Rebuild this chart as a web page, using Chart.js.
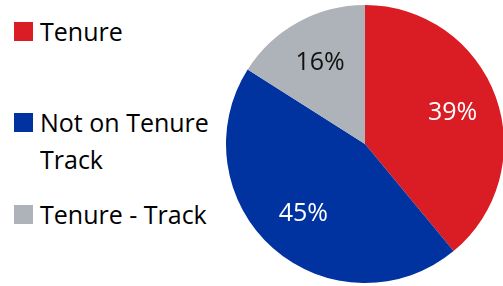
<!DOCTYPE html>
<html>
<head>
<meta charset="utf-8">
<script src="https://cdn.jsdelivr.net/npm/chart.js@4"></script>
<style>
  body { margin: 0; background: #fff; font-family: "Open Sans", sans-serif; }
  #wrap { position: relative; width: 503px; height: 286px; }
  #legend { position: absolute; left: 14px; top: 0; }
  .item { position: absolute; left: 0; white-space: nowrap; font-size: 25px; line-height: 37px; color: #000; }
  .box { position: absolute; left: 0; width: 19px; height: 19px; }
  .txt { position: absolute; left: 26px; }
  #pie { position: absolute; left: 226px; top: 5px; width: 278px; height: 278px; }
</style>
</head>
<body>
<div id="wrap">
  <div id="legend"></div>
  <div id="pie"><canvas id="pieChart"></canvas></div>
</div>
<script>
const labels = ['Tenure', 'Not on Tenure\nTrack', 'Tenure - Track'];
const values = [39, 45, 16];
const colors = ['#DA1C24', '#0033A0', '#ADB3B8'];
const textColors = ['#fff', '#fff', '#111'];

// legend rows (top of first line)
const legendTops = [13, 104, 196];
const legend = document.getElementById('legend');
labels.forEach((l, i) => {
    const item = document.createElement('div');
    item.className = 'item';
    item.style.top = legendTops[i] + 'px';
    item.innerHTML = '<div class="box" style="top:9px;background:' + colors[i] + '"></div>' +
        '<div class="txt">' + l.split('\n').join('<br>') + '</div>';
    legend.appendChild(item);
});

const pctLabels = {
    id: 'pctLabels',
    afterDatasetsDraw(chart) {
        const ctx = chart.ctx;
        const meta = chart.getDatasetMeta(0);
        ctx.save();
        ctx.font = '25px "Open Sans"';
        ctx.textAlign = 'center';
        ctx.textBaseline = 'middle';
        meta.data.forEach((arc, i) => {
            const mid = (arc.startAngle + arc.endAngle) / 2;
            const r = arc.outerRadius * 0.67;
            ctx.fillStyle = textColors[i];
            ctx.fillText(values[i] + '%', arc.x + Math.cos(mid) * r, arc.y + Math.sin(mid) * r);
        });
        ctx.restore();
    }
};

const pieCtx = document.getElementById('pieChart').getContext('2d');
new Chart(pieCtx, {
    type: 'pie',
    data: {
        labels: labels,
        datasets: [{
            data: values,
            backgroundColor: colors,
            borderWidth: 0
        }]
    },
    options: {
        responsive: true,
        maintainAspectRatio: false,
        animation: false,
        layout: { padding: 0 },
        plugins: {
            legend: { display: false },
            tooltip: { enabled: false }
        }
    },
    plugins: [pctLabels]
});
</script>
</body>
</html>
